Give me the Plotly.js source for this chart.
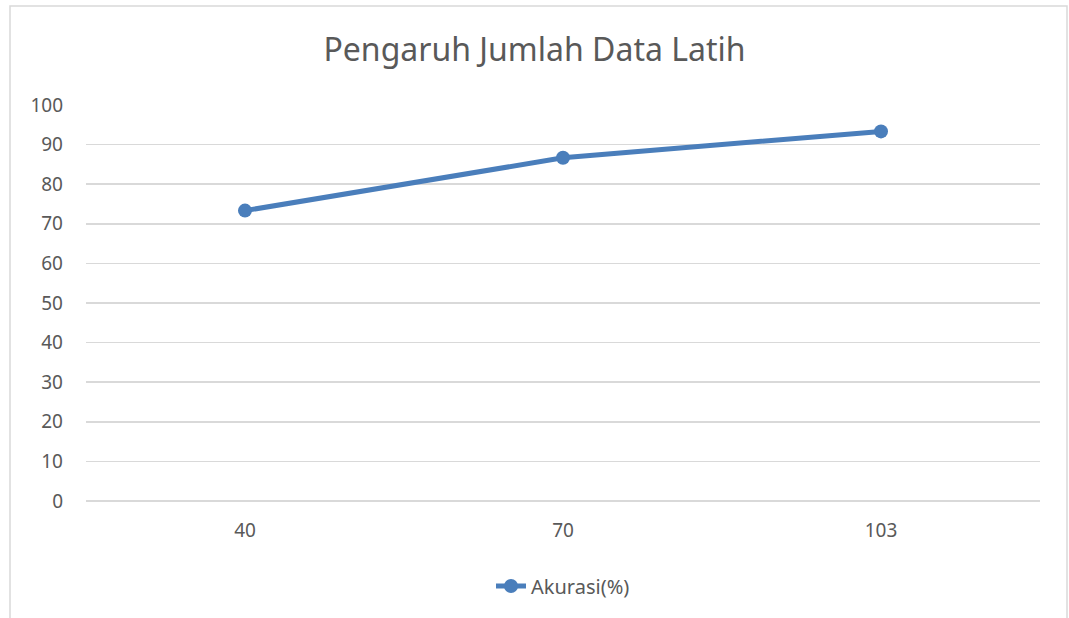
<!DOCTYPE html>
<html><head><meta charset="utf-8">
<script src="https://cdn.plot.ly/plotly-3.0.1.min.js"></script>
<style>html,body{margin:0;padding:0;background:#fff}#c{width:1069px;height:618px}</style>
</head><body><div id="c"></div>
<script>
const categories = ["40", "70", "103"];
const akurasi = [73.33, 86.67, 93.33];
const seriesName = "Akurasi(%)";
const yTicks = [0,10,20,30,40,50,60,70,80,90,100];

const W = 1069, H = 618, L = 86, R = 29, T = 105, B = 117;
const pw = W - L - R, ph = H - T - B;
const px = v => (v - L) / pw;
const py = v => (H - B - v) / ph;

const trace = {
  x: categories, y: akurasi, type: 'scatter', mode: 'lines+markers',
  name: seriesName,
  line: {color: '#4a7ebb', width: 5},
  marker: {color: '#4a7ebb', size: 14}
};
const layout = {
  width: W, height: H,
  margin: {l: L, r: R, t: T, b: B},
  paper_bgcolor: '#fff', plot_bgcolor: '#fff',
  font: {family: 'Noto Sans, Liberation Sans, sans-serif', color: '#595959', size: 20},
  title: {text: 'Pengaruh Jumlah Data Latih', x: 0.5, xanchor: 'center', y: 1 - 50/H, yanchor: 'middle',
          font: {size: 32, color: '#595959'}},
  xaxis: {type: 'category', range: [-0.5, 2.5], showgrid: false, zeroline: false, showline: false,
          ticks: '', ticklabelstandoff: 16, tickfont: {size: 19, color: '#595959'}},
  yaxis: {range: [0, 100], tickvals: yTicks, showgrid: true, gridcolor: '#d9d9d9', gridwidth: 1.5,
          zeroline: true, zerolinecolor: '#d9d9d9', zerolinewidth: 1.5, showline: false, ticks: '',
          ticklabelstandoff: 22, tickfont: {size: 19, color: '#595959'}},
  showlegend: true,
  legend: {orientation: 'h', x: 0.5, xanchor: 'center', y: py(586), yanchor: 'middle',
           font: {size: 20, color: '#595959'}},
  shapes: [{type: 'rect', xref: 'paper', yref: 'paper', x0: px(10), x1: px(1067), y0: py(640), y1: py(6),
            line: {color: '#d9d9d9', width: 1.5}, fillcolor: 'rgba(0,0,0,0)', layer: 'below'}]
};
Plotly.newPlot('c', [trace], layout, {displayModeBar: false, staticPlot: true});
</script></body></html>
